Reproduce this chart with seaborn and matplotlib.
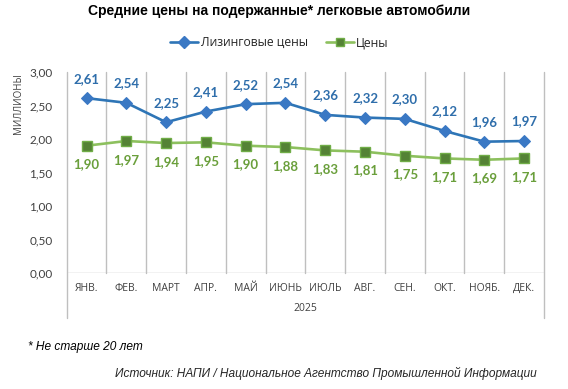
import matplotlib
matplotlib.use("Agg")
import matplotlib.pyplot as plt
import seaborn as sns
import pandas as pd
from matplotlib.lines import Line2D
import matplotlib.transforms as mtrans

months = ["ЯНВ.", "ФЕВ.", "МАРТ", "АПР.", "МАЙ", "ИЮНЬ", "ИЮЛЬ", "АВГ.", "СЕН.", "ОКТ.", "НОЯБ.", "ДЕК."]
leasing = [2.61, 2.54, 2.25, 2.41, 2.52, 2.54, 2.36, 2.32, 2.30, 2.12, 1.96, 1.97]
prices = [1.90, 1.97, 1.94, 1.95, 1.90, 1.88, 1.83, 1.81, 1.75, 1.71, 1.69, 1.71]
yticks = [0.0, 0.5, 1.0, 1.5, 2.0, 2.5, 3.0]
year = "2025"

sns.set_style("white")
plt.rcParams['font.family'] = ['Open Sans', 'DejaVu Sans']

BLUE_LINE = "#2E75B6"
BLUE_MK = "#3A78C4"
BLUE_TXT = "#2F6EAB"
GREEN_LINE = "#8DC05E"
GREEN_MK = "#548235"
GREEN_EDGE = "#70AD47"
GREEN_TXT = "#6A9F3B"
GRID = "#BFBFBF"

W, H = 568, 389
fig = plt.figure(figsize=(W/100, H/100), dpi=100)
ax = fig.add_axes([66.7/W, 1-273/H, (544-66.7)/W, 201/H])

x = list(range(len(months)))
df = pd.DataFrame({"x": x, "leasing": leasing, "prices": prices})

sns.lineplot(data=df, x="x", y="leasing", ax=ax, color=BLUE_LINE, lw=1.9,
             marker="D", markersize=6.5, markerfacecolor=BLUE_MK, markeredgecolor=BLUE_MK, zorder=4)
sns.lineplot(data=df, x="x", y="prices", ax=ax, color=GREEN_LINE, lw=1.9,
             marker="s", markersize=6.5, markerfacecolor=GREEN_MK, markeredgecolor=GREEN_EDGE,
             markeredgewidth=1.0, zorder=4)

for xi, v in zip(x, leasing):
    ax.annotate(f"{v:.2f}".replace(".", ","), (xi, v), xytext=(0, 14), textcoords="offset points",
                ha="center", va="center", color=BLUE_TXT, fontsize=9.5, fontweight="bold",
                family=["Lato", "DejaVu Sans"])
for xi, v in zip(x, prices):
    ax.annotate(f"{v:.2f}".replace(".", ","), (xi, v), xytext=(0, -13.5), textcoords="offset points",
                ha="center", va="center", color=GREEN_TXT, fontsize=9.5, fontweight="bold",
                family=["Lato", "DejaVu Sans"])

ax.set_xlim(-0.5, len(months)-0.5)
ax.set_ylim(0, 3.0)
for s in ax.spines.values():
    s.set_visible(False)

# vertical category separators
for k in range(len(months)+1):
    b = k - 0.5
    lo = -0.224 if k in (0, len(months)) else 0
    ax.plot([b, b], [lo, 1.0], transform=ax.get_xaxis_transform(), color=GRID, lw=1,
            clip_on=False, zorder=1)
ax.axhline(0, color=GRID, lw=1, zorder=1)

ax.set_yticks(yticks)
ax.set_yticklabels([f"{t:.2f}".replace(".", ",") for t in yticks], family=["Lato", "DejaVu Sans"],
                   fontsize=8.5, color="#404040")
ax.tick_params(axis="y", length=0, pad=10)
ax.set_xticks(x)
ax.set_xticklabels([])
ax.tick_params(axis="x", length=0)
ax.set_xlabel("")
ax.set_ylabel("")

trans = mtrans.blended_transform_factory(ax.transData, fig.transFigure)
for xi, m in zip(x, months):
    ax.text(xi, 1-288.5/H, m, transform=trans, ha="center", va="center", fontsize=7.5, color="#404040")
ax.text((len(months)-1)/2, 1-308.5/H, year, transform=trans, ha="center", va="center",
        fontsize=7.5, color="#404040")

fig.text(18/W, 1-104/H, "МИЛЛИОНЫ", rotation=90, ha="center", va="center", fontsize=7, color="#404040")

fig.text(279/W, 1-11.5/H, "Средние цены на подержанные* легковые автомобили", ha="center", va="center",
         fontsize=10, fontweight="bold", family=["Liberation Sans", "DejaVu Sans"], color="#000000")

handles = [
    Line2D([], [], color=BLUE_LINE, lw=1.9, marker="D", markersize=6, markerfacecolor=BLUE_MK,
           markeredgecolor=BLUE_MK),
    Line2D([], [], color=GREEN_LINE, lw=1.9, marker="s", markersize=6, markerfacecolor=GREEN_MK,
           markeredgecolor=GREEN_EDGE),
]
fig.legend(handles, ["Лизинговые цены", "Цены"], loc="center", bbox_to_anchor=(279.5/W, 1-42.7/H),
           ncol=2, frameon=False, fontsize=8.7, handlelength=2.3, handletextpad=0.2, columnspacing=1.5)

fig.text(28.3/W, 1-346.7/H, "* Не старше 20 лет", ha="left", va="center", fontsize=8.6, style="italic",
         family=["Liberation Sans", "DejaVu Sans"], color="#000000")
fig.text(536.7/W, 1-373/H, "Источник: НАПИ / Национальное Агентство Промышленной Информации", ha="right",
         va="center", fontsize=8.6, style="italic", family=["Liberation Sans", "DejaVu Sans"], color="#262626")

fig.savefig("out.png", dpi=100)
